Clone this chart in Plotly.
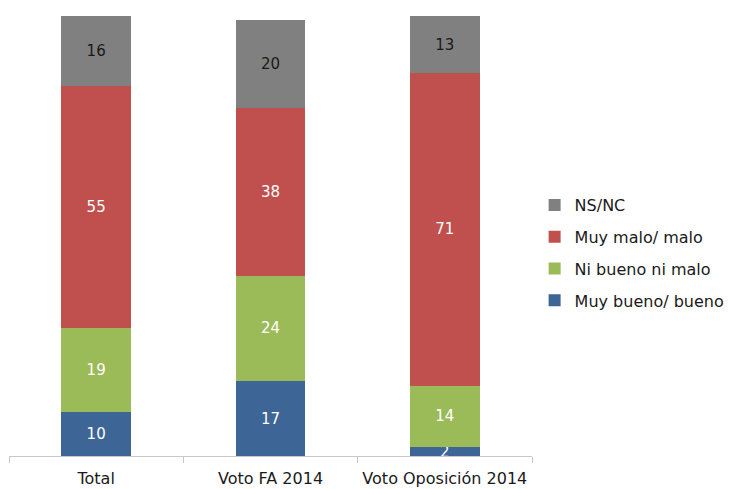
import plotly.graph_objects as go

categories = ["Total", "Voto FA 2014", "Voto Oposición 2014"]
muy_bueno = [10, 17, 2]
ni_bueno = [19, 24, 14]
muy_malo = [55, 38, 71]
ns_nc = [16, 20, 13]

series = [
    ("Muy bueno/ bueno", muy_bueno, "#3d6596", "white"),
    ("Ni bueno ni malo", ni_bueno, "#9bbb59", "white"),
    ("Muy malo/ malo", muy_malo, "#c0504d", "white"),
    ("NS/NC", ns_nc, "#808080", "#1a1a1a"),
]

fig = go.Figure()
for i, (name, vals, color, tcol) in enumerate(series):
    fig.add_trace(go.Bar(
        name=name, x=categories, y=vals,
        marker=dict(color=color, line=dict(width=0)),
        text=[str(v) for v in vals], textposition="inside",
        insidetextanchor="middle", constraintext="none", textangle=0,
        textfont=dict(color=tcol, size=15, family="DejaVu Sans"),
        legendgroup=str(i), legendrank=10 - i,
    ))

fig.update_layout(
    barmode="stack", bargap=0.6,
    width=729, height=489,
    margin=dict(l=9, r=197, t=16, b=33, autoexpand=False),
    paper_bgcolor="white", plot_bgcolor="white",
    font=dict(family="DejaVu Sans", size=16, color="#1a1a1a"),
    showlegend=True,
    legend=dict(x=1.005, y=0.609, xanchor="left", yanchor="top",
                traceorder="grouped", tracegroupgap=8,
                font=dict(size=16, color="#1a1a1a"), itemwidth=30),
    xaxis=dict(showline=True, linecolor="#c8c8c8", linewidth=1,
               ticks="outside", tickson="boundaries", ticklen=6,
               tickcolor="#c8c8c8", showgrid=False, automargin=False,
               ticklabelstandoff=8),
    yaxis=dict(range=[0, 100], visible=False, showgrid=False),
)

fig.write_html("out.html", config={"displayModeBar": False},
               post_script="document.body.style.margin='0';")
